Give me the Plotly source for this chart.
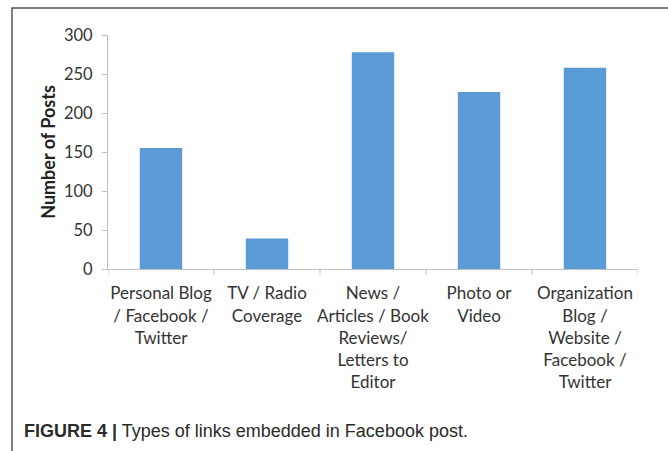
import plotly.graph_objects as go

# Link types found in Facebook posts and how many posts used each
categories = [
    "Personal Blog<br>/ Facebook /<br>Twitter",
    "TV / Radio<br>Coverage",
    "News /<br>Articles / Book<br>Reviews/<br>Letters to<br>Editor",
    "Photo or<br>Video",
    "Organization<br>Blog /<br>Website /<br>Facebook /<br>Twitter",
]
post_counts = [155, 39, 278, 227, 258]
y_ticks = [0, 50, 100, 150, 200, 250, 300]

W, H = 668, 451
L, R, T, B = 108, 30, 35, 182
plot_w = W - L - R
plot_h = H - T - B


def px_x(px):
    return (px - L) / plot_w


def px_y(py):
    return (H - B - py) / plot_h


fig = go.Figure(
    go.Bar(
        x=list(range(len(categories))),
        y=post_counts,
        width=0.4,
        marker=dict(color="#5B9BD5", line=dict(width=0)),
    )
)

axis_grey = "#BFBFBF"
text_col = "#333333"

fig.update_layout(
    width=W,
    height=H,
    margin=dict(l=L, r=R, t=T, b=B, pad=0),
    paper_bgcolor="white",
    plot_bgcolor="white",
    showlegend=False,
    font=dict(family="Lato", size=15, color=text_col),
    xaxis=dict(
        range=[-0.5, len(categories) - 0.5],
        tickmode="array",
        tickvals=list(range(len(categories))),
        ticktext=categories,
        tickfont=dict(family="Lato", size=17, color=text_col),
        ticklabelstandoff=9,
        showgrid=False,
        zeroline=False,
        showline=True,
        linecolor=axis_grey,
        linewidth=1,
        ticks="",
        fixedrange=True,
    ),
    yaxis=dict(
        range=[0, 300],
        tickmode="array",
        tickvals=y_ticks,
        tickfont=dict(family="Lato", size=16.5, color=text_col),
        showgrid=False,
        zeroline=False,
        showline=True,
        linecolor=axis_grey,
        linewidth=1,
        ticks="outside",
        ticklen=5,
        tickcolor=axis_grey,
        ticklabelstandoff=6,
        title=dict(
            text="<b>Number of Posts</b>",
            font=dict(family="Lato", size=18, color="#222222"),
            standoff=3,
        ),
        fixedrange=True,
    ),
)

# Category divider ticks hanging below the x axis
for i in range(len(categories) + 1):
    fig.add_shape(
        type="line",
        xref="x",
        yref="paper",
        x0=i - 0.5,
        x1=i - 0.5,
        y0=0,
        y1=px_y(H - B + 6),
        line=dict(color=axis_grey, width=1),
    )

# Figure frame
fig.add_shape(
    type="rect",
    xref="paper",
    yref="paper",
    x0=px_x(12),
    x1=px_x(W + 20),
    y0=px_y(H + 20),
    y1=px_y(8),
    line=dict(color="#555555", width=1.5),
    fillcolor="rgba(0,0,0,0)",
    layer="below",
)

fig.add_annotation(
    xref="paper",
    yref="paper",
    x=px_x(22),
    y=px_y(431),
    xanchor="left",
    yanchor="middle",
    showarrow=False,
    text="<b>FIGURE 4 |</b> Types of links embedded in Facebook post.",
    font=dict(family="Liberation Sans", size=18, color="#2a2a2a"),
)

fig.write_html("out.html")
